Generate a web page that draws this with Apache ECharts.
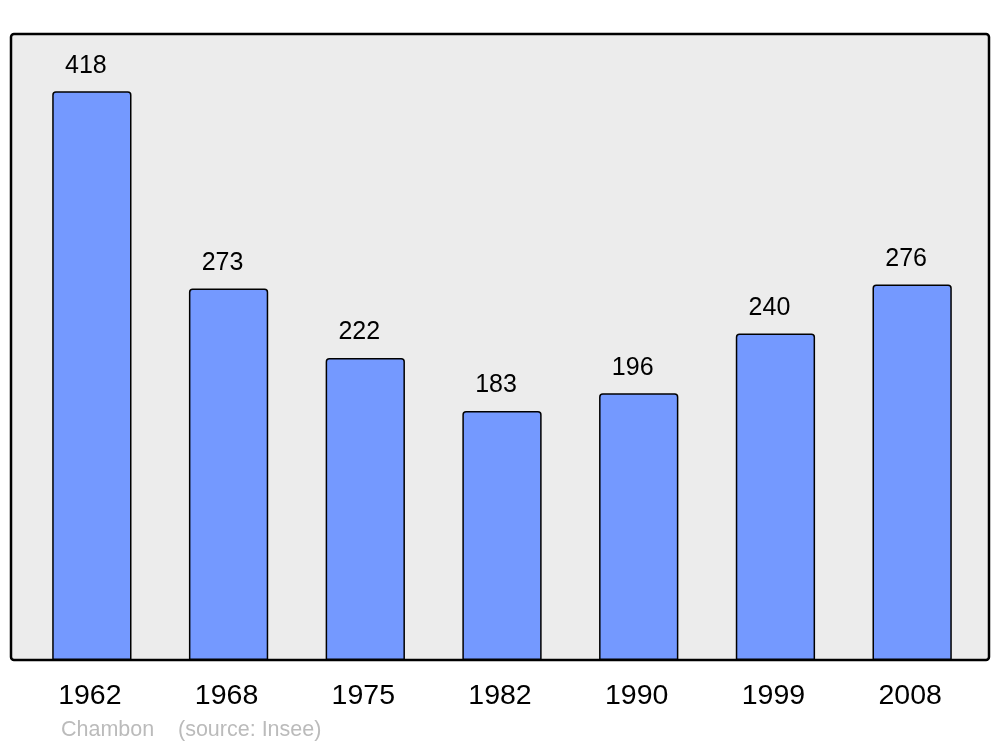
<!DOCTYPE html>
<html>
<head>
<meta charset="utf-8">
<script src="https://cdn.jsdelivr.net/npm/echarts@6/dist/echarts.min.js"></script>
<style>
html,body{margin:0;padding:0;background:#fff;}
#chart{width:1000px;height:747px;}
</style>
</head>
<body>
<div id="chart"></div>
<script>
const years = ['1962', '1968', '1975', '1982', '1990', '1999', '2008'];
const population = [418, 273, 222, 183, 196, 240, 276];
const townName = 'Chambon';
const sourceText = '(source: Insee)';

const chart = echarts.init(document.getElementById('chart'), null, {renderer: 'canvas'});
const font = '"Liberation Sans", Arial, sans-serif';
chart.setOption({
  animation: false,
  backgroundColor: '#ffffff',
  grid: {left: 23.5, right: 19.5, top: 34, bottom: 87, containLabel: false},
  graphic: [
    {type: 'rect', z: -10, silent: true,
     shape: {x: 11, y: 34, width: 978, height: 626, r: 3},
     style: {fill: '#ececec', stroke: '#000', lineWidth: 2.5}},
    {type: 'text', left: 61, top: 719, silent: true,
     style: {text: townName, fill: '#bbbbbb', fontSize: 21.5, fontFamily: font}},
    {type: 'text', left: 178, top: 719, silent: true,
     style: {text: sourceText, fill: '#bbbbbb', fontSize: 21.5, fontFamily: font}}
  ],
  xAxis: {
    type: 'category',
    data: years,
    axisLine: {show: false},
    axisTick: {show: false},
    axisLabel: {color: '#000', fontSize: 28.5, fontFamily: font, margin: 22, padding: [0, 4, 0, 0]}
  },
  yAxis: {
    type: 'value',
    min: 0,
    max: 460,
    show: false,
    splitLine: {show: false}
  },
  series: [{
    type: 'bar',
    data: population,
    barWidth: '58%',
    itemStyle: {color: '#7499ff', borderColor: '#000', borderWidth: 1.5, borderRadius: [3, 3, 0, 0]},
    label: {show: true, position: 'top', distance: 13, offset: [-6, 0], color: '#000', fontSize: 25, fontFamily: font}
  }]
});
</script>
</body>
</html>
